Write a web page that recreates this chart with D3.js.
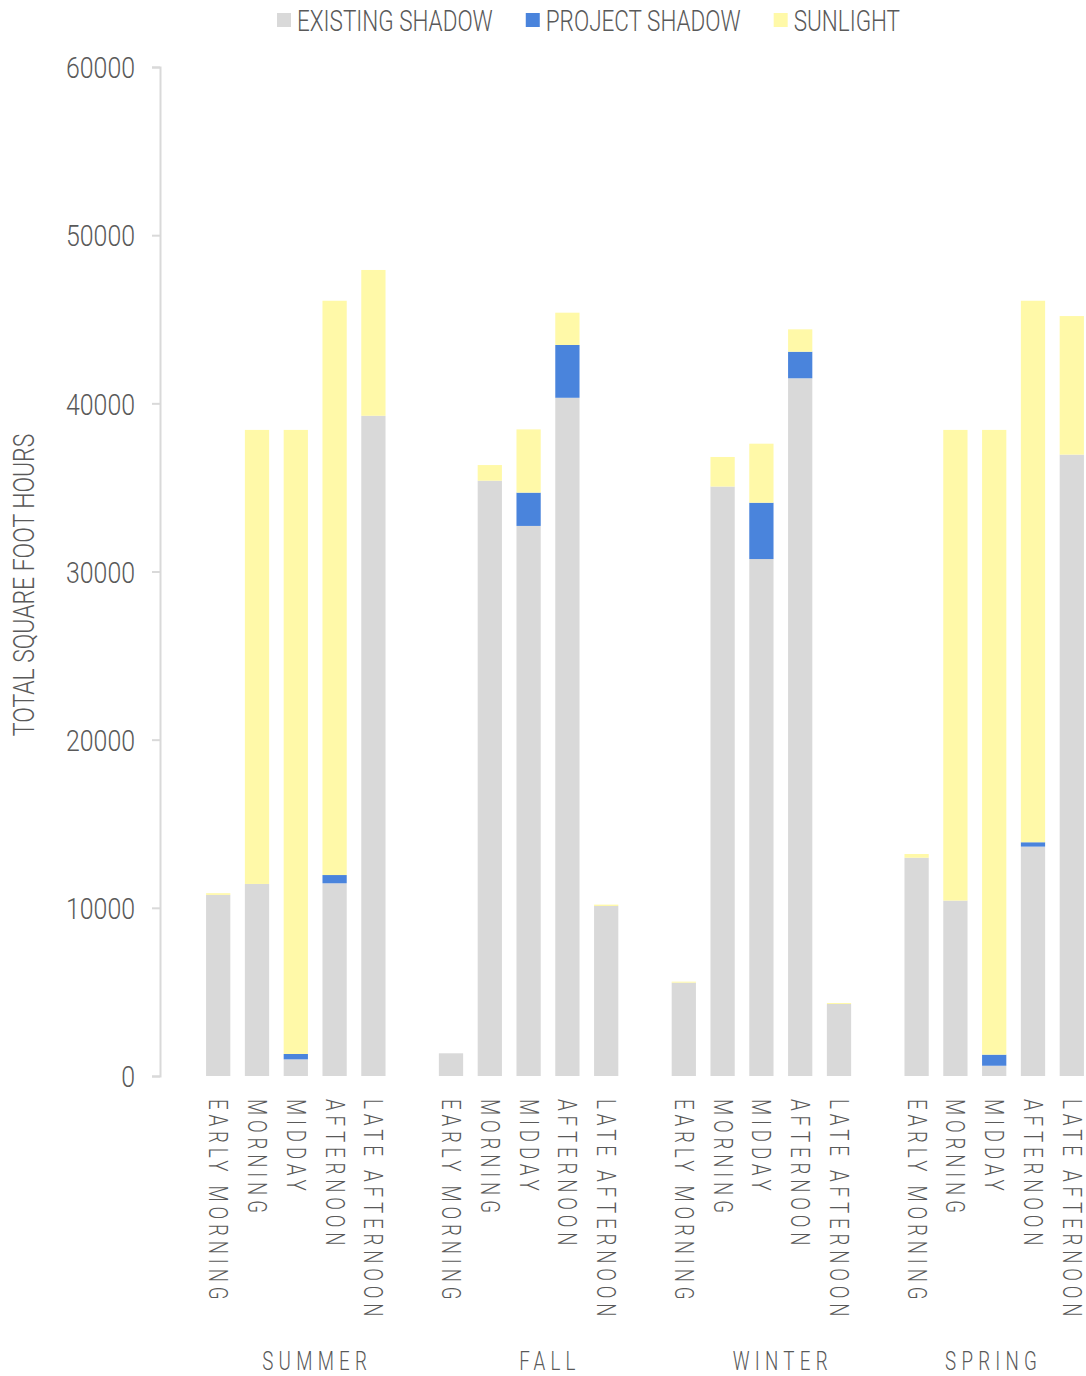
<!DOCTYPE html>
<html>
<head>
<meta charset="utf-8">
<script src="https://cdn.jsdelivr.net/npm/d3@7"></script>
<style>
  html, body { margin: 0; padding: 0; background: #fff; }
  svg text { font-family: "Roboto", "Liberation Sans", sans-serif; font-weight: 300; fill: #595959; }
</style>
</head>
<body>
<svg id="chart" width="1086" height="1376"></svg>
<script>
const seasons = ["SUMMER", "FALL", "WINTER", "SPRING"];
const times = ["EARLY MORNING", "MORNING", "MIDDAY", "AFTERNOON", "LATE AFTERNOON"];
const seriesNames = ["EXISTING SHADOW", "PROJECT SHADOW", "SUNLIGHT"];
const seriesColors = ["#d9d9d9", "#4a84dc", "#fff9a8"];

// values per season, in order of times
const existingShadow = {
  SUMMER: [10770, 11420, 990, 11460, 39260],
  FALL:   [1350, 35400, 32710, 40330, 10110],
  WINTER: [5550, 35050, 30740, 41490, 4280],
  SPRING: [12980, 10430, 610, 13640, 36950]
};
const projectShadow = {
  SUMMER: [0, 0, 320, 490, 0],
  FALL:   [0, 0, 1980, 3140, 0],
  WINTER: [0, 0, 3350, 1580, 0],
  SPRING: [0, 0, 660, 260, 0]
};
const sunlight = {
  SUMMER: [100, 27000, 37110, 34150, 8670],
  FALL:   [0, 930, 3760, 1920, 80],
  WINTER: [60, 1760, 3510, 1330, 60],
  SPRING: [220, 27990, 37150, 32200, 8240]
};
const yTicks = [0, 10000, 20000, 30000, 40000, 50000, 60000];
const yTitle = "TOTAL SQUARE FOOT HOURS";

const W = 1086, H = 1376;
const svg = d3.select("#chart");

// slots: a gap slot before each season's five bars
const slots = [];
seasons.forEach((s, si) => {
  slots.push("gap" + si);
  times.forEach(t => slots.push(s + "|" + t));
});

const plotLeft = 160, slotW = 38.8;
const x = d3.scaleBand().domain(slots).range([plotLeft, plotLeft + slots.length * slotW]).padding(0);
const barW = x.bandwidth() * 0.625;
const y = d3.scaleLinear().domain([0, 60000]).range([1076, 67]);

// build rows
const rows = [];
seasons.forEach(s => {
  times.forEach((t, i) => {
    rows.push({ key: s + "|" + t, season: s, time: t,
      "EXISTING SHADOW": existingShadow[s][i],
      "PROJECT SHADOW": projectShadow[s][i],
      "SUNLIGHT": sunlight[s][i] });
  });
});
const stacked = d3.stack().keys(seriesNames)(rows);

// bars
const g = svg.append("g");
stacked.forEach((layer, li) => {
  g.append("g").selectAll("rect").data(layer).join("rect")
    .attr("x", d => x(d.data.key) + (x.bandwidth() - barW) / 2)
    .attr("width", barW)
    .attr("y", d => y(d[1]))
    .attr("height", d => Math.max(0, y(d[0]) - y(d[1])))
    .attr("fill", seriesColors[li]);
});

// y axis
const tickSx = 0.83;
const yAxis = d3.axisLeft(y).tickValues(yTicks).tickSize(8).tickPadding(0).tickFormat(d3.format("d"));
const ya = svg.append("g").attr("transform", `translate(${plotLeft},0)`).call(yAxis);
ya.select(".domain").attr("stroke", "#d9d9d9").attr("stroke-width", 2);
ya.selectAll(".tick line").attr("stroke", "#d9d9d9").attr("stroke-width", 2);
ya.selectAll(".tick text")
  .attr("font-size", 30).attr("fill", "#595959")
  .attr("x", -25 / tickSx).attr("dy", "0.36em")
  .attr("transform", `scale(${tickSx},1)`)
  .style("font-family", '"Roboto", sans-serif').style("font-weight", 300);

// y title
svg.append("text")
  .attr("transform", `translate(34,585) rotate(-90) scale(0.765,1)`)
  .attr("text-anchor", "middle")
  .attr("font-size", 30)
  .text(yTitle);

// x category labels (rotated)
svg.append("g").selectAll("text").data(rows).join("text")
  .attr("transform", d => `translate(${x(d.key) + x.bandwidth() / 2},1099) rotate(90) scale(0.75,1)`)
  .attr("dy", "0.36em")
  .attr("font-size", 25)
  .attr("letter-spacing", 6.4)
  .text(d => d.time);

// season labels
seasons.forEach((s, si) => {
  const start = x(s + "|" + times[0]);
  const end = Math.min(start + 6 * x.step(), W);
  svg.append("text")
    .attr("transform", `translate(${(start + end) / 2 + 2},1370) scale(0.75,1)`)
    .attr("text-anchor", "middle")
    .attr("font-size", 25)
    .attr("letter-spacing", 7)
    .text(s);
});

// legend
const lg = svg.append("g");
const legSx = 0.75;
let lx = 277;
seriesNames.forEach((n, i) => {
  lg.append("rect").attr("x", lx).attr("y", 13).attr("width", 14).attr("height", 14).attr("fill", seriesColors[i]);
  const t = lg.append("text").attr("transform", `translate(${lx + 20},31) scale(${legSx},1)`)
    .attr("font-size", 30).text(n);
  lx += 20 + t.node().getComputedTextLength() * legSx + 33;
});
</script>
</body>
</html>
